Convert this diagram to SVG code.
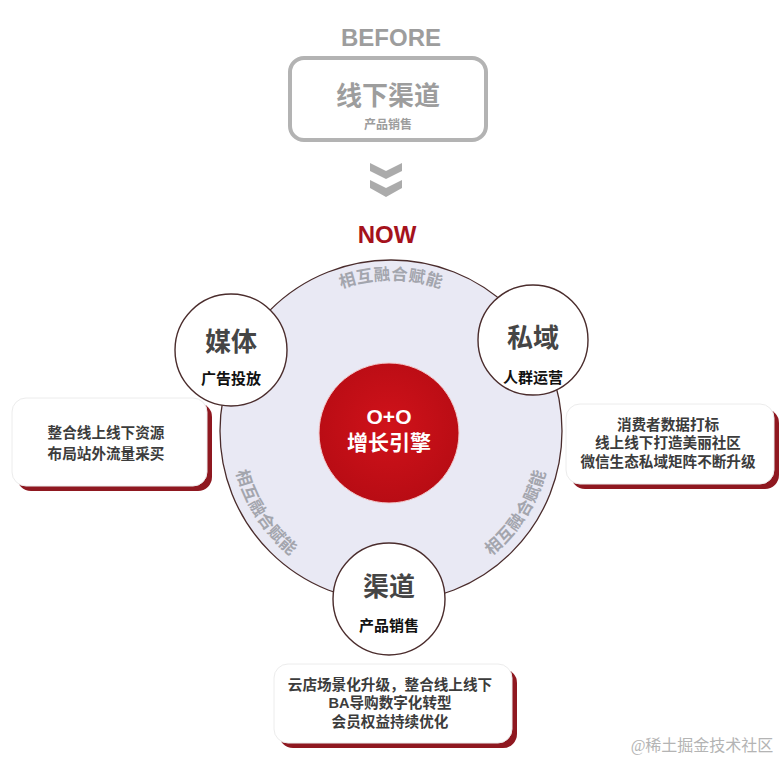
<svg xmlns="http://www.w3.org/2000/svg" width="782" height="760" viewBox="0 0 782 760">
<defs>
<style>
text{font-family:"Liberation Sans","Noto Sans CJK SC",sans-serif;font-weight:bold;text-anchor:middle}
.gray{fill:#9d9d9d}
.title{font-size:26px;fill:#454545}
.sub{font-size:15px;fill:#111}
.card-txt{font-size:14.6px;fill:#3c3c3c}
.arc-lbl{font-size:16.5px;fill:#a3a5ad;letter-spacing:0.5px}
.node-circle{fill:#ffffff;stroke:#4a2c2c;stroke-width:1.4}
.card{fill:#ffffff;stroke:#ececec;stroke-width:1}
.card-shadow{fill:#8f1820}
.white{fill:#ffffff}
</style>
<radialGradient id="redGrad" cx="50%" cy="45%" r="55%">
<stop offset="0" stop-color="#d0121a"/>
<stop offset="1" stop-color="#b80c14"/>
</radialGradient>
<path id="arcTop" d="M 240 431 A 151 151 0 0 1 542 431"/>
<path id="arcLeft" d="M 240.65 376.28 A 160 160 0 0 0 379.84 590.61"/>
<path id="arcRight" d="M 402.16 590.61 A 160 160 0 0 0 541.35 376.28"/>
</defs>
<rect width="782" height="760" fill="#ffffff"/>

<g id="before">
<text x="391" y="46" class="gray" style="font-size:24px">BEFORE</text>
<rect x="290" y="58" width="196" height="82" rx="14" fill="#ffffff" stroke="#b3b3b3" stroke-width="4"/>
<text x="388" y="105" class="gray" style="font-size:26px">线下渠道</text>
<text x="388" y="129" class="gray" style="font-size:12px">产品销售</text>
</g>

<g id="connectors">
<polygon points="370,163 386,171 402,163 402,171 386,179 370,171" fill="#ababab"/>
<polygon points="370,180 386,188 402,180 402,188 386,197 370,188" fill="#ababab"/>
</g>

<g id="now">
<text x="387" y="243" style="font-size:24px;fill:#a5121c">NOW</text>
</g>

<g id="ring">
<circle cx="391" cy="431" r="171" fill="#e9e9f4" stroke="#4a2c2c" stroke-width="1.3"/>
<text class="arc-lbl"><textPath href="#arcTop" startOffset="50%">相互融合赋能</textPath></text>
<text class="arc-lbl"><textPath href="#arcLeft" startOffset="50%">相互融合赋能</textPath></text>
<text class="arc-lbl"><textPath href="#arcRight" startOffset="50%">相互融合赋能</textPath></text>
</g>

<g id="engine">
<circle cx="389" cy="433" r="70" fill="url(#redGrad)" stroke="#f3c9cb" stroke-width="1"/>
<text x="389" y="424" class="white" style="font-size:21px">O+O</text>
<text x="389" y="450" class="white" style="font-size:21px">增长引擎</text>
</g>

<g id="media">
<circle cx="231" cy="350" r="56" class="node-circle"/>
<text x="231" y="351" class="title">媒体</text>
<text x="231" y="384" class="sub">广告投放</text>
</g>

<g id="private">
<circle cx="533" cy="340" r="55" class="node-circle"/>
<text x="533" y="347" class="title">私域</text>
<text x="533" y="383" class="sub">人群运营</text>
</g>

<g id="channel">
<circle cx="389" cy="599" r="56" class="node-circle"/>
<text x="389" y="596" class="title">渠道</text>
<text x="389" y="631" class="sub">产品销售</text>
</g>

<g id="card-media">
<rect x="17" y="403" width="195" height="88" rx="14" class="card-shadow"/>
<rect x="12" y="398" width="195" height="88" rx="14" class="card"/>
<text x="106" y="438" class="card-txt">整合线上线下资源</text>
<text x="106" y="459" class="card-txt">布局站外流量采买</text>
</g>

<g id="card-private">
<rect x="571" y="409" width="208" height="80" rx="14" class="card-shadow"/>
<rect x="566" y="404" width="208" height="80" rx="14" class="card"/>
<text x="668" y="430" class="card-txt">消费者数据打标</text>
<text x="668" y="448" class="card-txt">线上线下打造美丽社区</text>
<text x="668" y="467" class="card-txt">微信生态私域矩阵不断升级</text>
</g>

<g id="card-channel">
<rect x="279" y="669" width="238" height="79" rx="14" class="card-shadow"/>
<rect x="274" y="664" width="238" height="79" rx="14" class="card"/>
<text x="390" y="690" class="card-txt">云店场景化升级，整合线上线下</text>
<text x="390" y="708" class="card-txt">BA导购数字化转型</text>
<text x="390" y="727" class="card-txt">会员权益持续优化</text>
</g>

<g id="watermark">
<text x="702" y="751" style="font-family:'Liberation Serif','Noto Sans CJK SC',serif;font-weight:normal;font-size:16px;fill:#b4b4b4">@稀土掘金技术社区</text>
</g>
</svg>
